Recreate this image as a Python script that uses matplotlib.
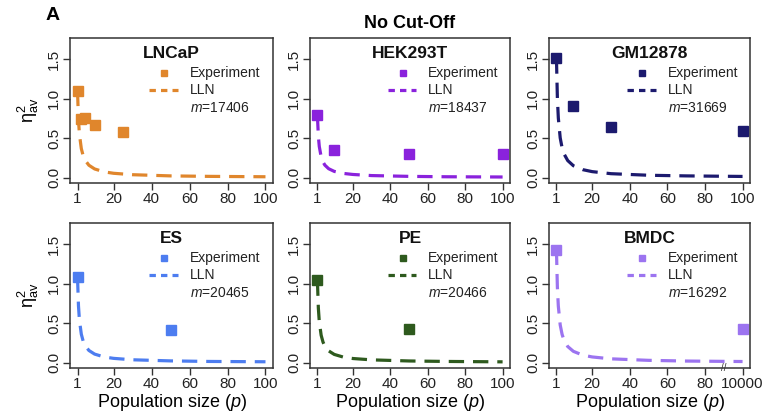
import numpy as np
import matplotlib.pyplot as plt
from matplotlib.lines import Line2D

plt.rcParams['font.family'] = ['Liberation Sans', 'DejaVu Sans']
plt.rcParams['mathtext.fontset'] = 'custom'
plt.rcParams['mathtext.rm'] = 'Liberation Sans'
plt.rcParams['mathtext.it'] = 'Liberation Sans:italic'

# cell lines (panel order: row by row)
celule = ["LNCaP", "HEK293T", "GM12878", "ES", "PE", "BMDC"]
m_valori = [17406, 18437, 31669, 20465, 20466, 16292]
culori = ["#E0862C", "#8A22DC", "#1C1A6E", "#4D7DF0", "#2E5A1E", "#9C74F0"]

# experiment points (p, eta^2_av); BMDC 10000 is drawn at the 100 position
exp_p = [
    [1, 3, 5, 10, 25],
    [1, 10, 50, 100],
    [1, 10, 30, 100],
    [1, 50],
    [1, 50],
    [1, 100],
]
exp_eta = [
    [1.10, 0.74, 0.76, 0.67, 0.58],
    [0.79, 0.35, 0.30, 0.30],
    [1.51, 0.91, 0.64, 0.59],
    [1.08, 0.41],
    [1.04, 0.42],
    [1.43, 0.43],
]

# LLN curves
lln_p = [1, 1.5, 2, 3, 4, 5, 7, 10, 15, 20, 30, 50, 70, 100]
lln_eta = [
    [1.10, 0.733, 0.55, 0.367, 0.275, 0.22, 0.157, 0.11, 0.073, 0.055, 0.037, 0.022, 0.016, 0.011],
    [0.79, 0.527, 0.395, 0.263, 0.198, 0.158, 0.113, 0.079, 0.053, 0.040, 0.026, 0.016, 0.011, 0.008],
    [1.51, 1.007, 0.755, 0.503, 0.378, 0.302, 0.216, 0.151, 0.101, 0.076, 0.050, 0.030, 0.022, 0.015],
    [1.08, 0.72, 0.54, 0.36, 0.27, 0.216, 0.154, 0.108, 0.072, 0.054, 0.036, 0.022, 0.015, 0.011],
    [1.04, 0.693, 0.52, 0.347, 0.26, 0.208, 0.149, 0.104, 0.069, 0.052, 0.035, 0.021, 0.015, 0.010],
    [1.43, 0.953, 0.715, 0.477, 0.358, 0.286, 0.204, 0.143, 0.095, 0.072, 0.048, 0.029, 0.020, 0.014],
]

x_ticks = [1, 20, 40, 60, 80, 100]
x_labels = ["1", "20", "40", "60", "80", "100"]
x_labels_bmdc = ["1", "20", "40", "60", "80", "10000"]
y_ticks = [0.0, 0.5, 1.0, 1.5]
y_labels = ["0.0", "0.5", "1.0", "1.5"]

W, H = 769, 418
fig = plt.figure(figsize=(W / 100, H / 100), dpi=100)

col_px = [(70, 273), (310, 510), (549, 750)]
row_px = [(38, 183), (223, 368)]

for i, nume in enumerate(celule):
    r, c = divmod(i, 3)
    x0, x1 = col_px[c]
    y0, y1 = row_px[r]
    ax = fig.add_axes([x0 / W, 1 - y1 / H, (x1 - x0) / W, (y1 - y0) / H])
    col = culori[i]

    ax.plot(lln_p, lln_eta[i], color=col, lw=2.3, dashes=(4.8, 2.8))
    ax.plot(exp_p[i], exp_eta[i], 's', color=col, ms=6.5, mec=col)

    ax.set_xlim(-2.96, 103.96)
    ax.set_ylim(-0.068, 1.768)
    ax.set_xticks(x_ticks)
    ax.set_xticklabels(x_labels_bmdc if nume == "BMDC" else x_labels, fontsize=11)
    ax.set_yticks(y_ticks)
    ax.set_yticklabels(y_labels, fontsize=11, rotation=90, va='center')
    ax.tick_params(length=5, width=1, pad=1.5, color='#333333', labelcolor='#222222')
    for s in ax.spines.values():
        s.set_linewidth(1.1)
        s.set_color('#333333')

    ax.text(0.5, 0.895, nume, transform=ax.transAxes, ha='center', va='center',
            fontsize=12.5, fontweight='bold', color='#111111')

    # legend drawn by hand
    ax.add_line(Line2D([0.465], [0.762], transform=ax.transAxes, marker='s',
                       ms=4.5, color=col, ls='none'))
    ax.add_line(Line2D([0.39, 0.53], [0.641, 0.641], transform=ax.transAxes,
                       color=col, lw=2.3, dashes=(2.0, 1.6)))
    ax.text(0.59, 0.762, "Experiment", transform=ax.transAxes, va='center',
            fontsize=10, color='#222222')
    ax.text(0.59, 0.641, "LLN", transform=ax.transAxes, va='center',
            fontsize=10, color='#222222')
    ax.text(0.59, 0.517, r"$m$=" + str(m_valori[i]), transform=ax.transAxes,
            va='center', fontsize=10, color='#222222')

    if c == 0:
        ax.set_ylabel(r"$\mathrm{\eta}^2_{\mathrm{av}}$", fontsize=13, labelpad=4)
    if r == 1:
        ax.set_xlabel(r"Population size ($p$)", fontsize=13, labelpad=1)
    if nume == "BMDC":
        ax.text(90, -0.068, "//", ha='center', va='center', fontsize=7,
                color='#333333', clip_on=False)

fig.text(53 / W, 1 - 16 / H, "A", fontsize=14, fontweight='bold', ha='center', va='center')
fig.text(410 / W, 1 - 24 / H, "No Cut-Off", fontsize=13, fontweight='bold',
         ha='center', va='center')

fig.savefig("out.png", dpi=100)
